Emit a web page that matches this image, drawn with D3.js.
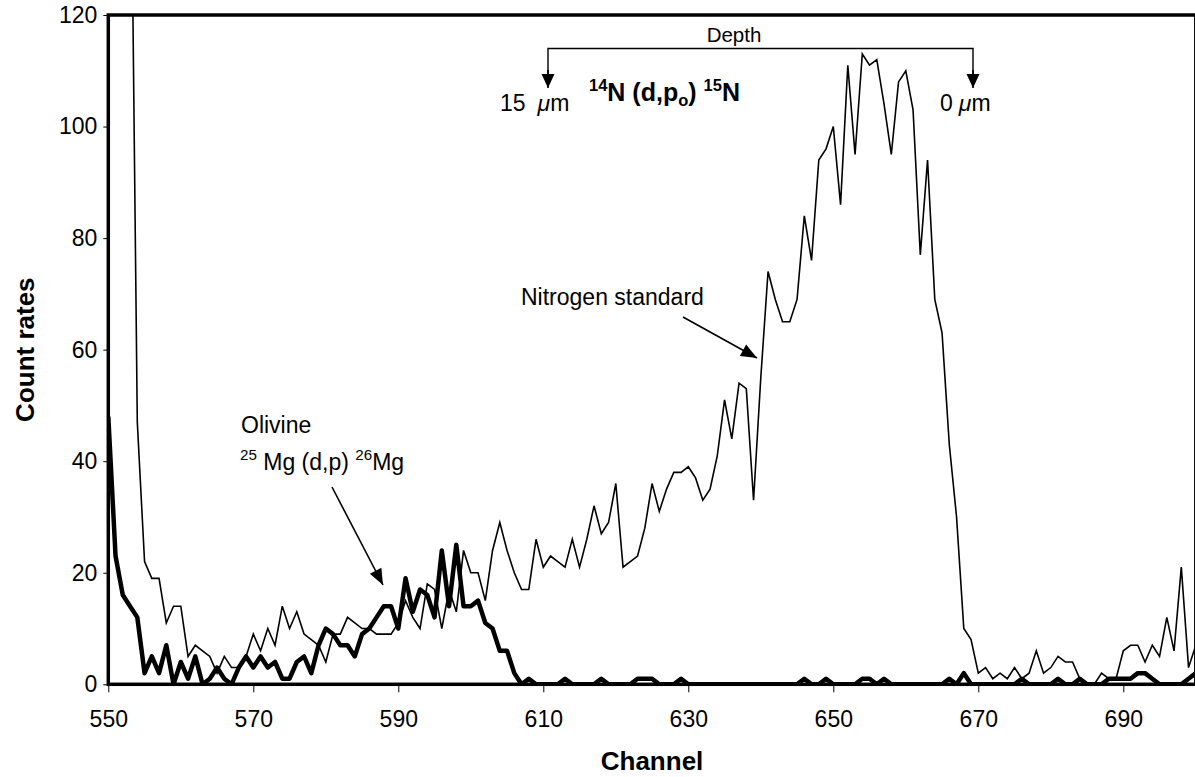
<!DOCTYPE html>
<html>
<head>
<meta charset="utf-8">
<script src="https://cdn.jsdelivr.net/npm/d3@7"></script>
<style>
body { margin: 0; background: #fff; }
svg text { font-family: "Liberation Sans", Arial, sans-serif; fill: #000; }
</style>
</head>
<body>
<div id="chart"></div>
<script>
// Data: counts per channel, 550 .. 700
var firstChannel = 550;
var lastChannel = 700;

// Nitrogen standard, 14N(d,p0)15N (thin line); first channels run off the top
var nitrogen = [
    290, 250, 210, 168, 47, 22, 19, 19, 11, 14,
    14, 5, 7, 6, 5, 2, 5, 3, 3, 5,
    9, 6, 10, 7, 14, 10, 13, 9, 8, 7,
    4, 9, 9, 12, 11, 10, 10, 9, 9, 9,
    11, 15, 12, 10, 18, 17, 10, 17, 13, 24,
    20, 20, 15, 24, 29, 24, 20, 17, 17, 26,
    21, 23, 22, 21, 26, 21, 26, 32, 27, 29,
    36, 21, 22, 23, 28, 36, 31, 35, 38, 38,
    39, 37, 33, 35, 41, 51, 44, 54, 53, 33,
    55, 74, 69, 65, 65, 69, 84, 76, 94, 96,
    100, 86, 111, 95, 113, 111, 112, 104, 95, 108,
    110, 103, 77, 94, 69, 63, 43, 30, 10, 8,
    2, 3, 1, 2, 1, 3, 1, 2, 6, 2,
    3, 5, 4, 4, 1, 0, 0, 2, 1, 1,
    6, 7, 7, 4, 7, 5, 12, 6, 21, 3,
    7
];

// Olivine, 25Mg(d,p)26Mg (thick line)
var olivine = [
    48, 23, 16, 14, 12, 2, 5, 2, 7, 0,
    4, 1, 5, 0, 1, 3, 1, 0, 3, 5,
    3, 5, 3, 4, 1, 1, 4, 5, 2, 7,
    10, 9, 7, 7, 5, 9, 10, 12, 14, 14,
    10, 19, 13, 17, 16, 12, 24, 14, 25, 14,
    14, 15, 11, 10, 6, 6, 2, 0, 1, 0,
    0, 0, 0, 1, 0, 0, 0, 0, 1, 0,
    0, 0, 0, 1, 1, 1, 0, 0, 0, 1,
    0, 0, 0, 0, 0, 0, 0, 0, 0, 0,
    0, 0, 0, 0, 0, 0, 1, 0, 0, 1,
    0, 0, 0, 0, 1, 1, 0, 1, 0, 0,
    0, 0, 0, 0, 0, 0, 1, 0, 2, 0,
    0, 0, 0, 0, 0, 0, 1, 0, 0, 0,
    0, 1, 0, 0, 1, 0, 0, 0, 1, 1,
    1, 1, 2, 2, 1, 0, 0, 0, 0, 1,
    2
];

var xTicks = [550, 570, 590, 610, 630, 650, 670, 690];
var yTicks = [0, 20, 40, 60, 80, 100, 120];
var xTitle = "Channel";
var yTitle = "Count rates";

var channels = d3.range(firstChannel, lastChannel + 1);

var margin = {top: 15, left: 108.3},
    width = 1087.5,
    height = 669.3;

var x = d3.scaleLinear().domain([firstChannel, lastChannel]).range([margin.left, margin.left + width]);
var y = d3.scaleLinear().domain([0, 120]).range([margin.top + height, margin.top]);

var svg = d3.select("#chart").append("svg")
    .attr("width", 1195)
    .attr("height", 777);

svg.append("defs").append("clipPath")
    .attr("id", "plotclip")
  .append("rect")
    .attr("x", margin.left)
    .attr("y", margin.top)
    .attr("width", width)
    .attr("height", height);

// Axes
var xAxis = d3.axisBottom(x).tickValues(xTicks).tickSize(8).tickPadding(18);
var yAxis = d3.axisLeft(y).tickValues(yTicks).tickSize(5).tickPadding(6);

var gx = svg.append("g")
    .attr("transform", "translate(0," + (margin.top + height) + ")")
    .call(xAxis);
var gy = svg.append("g")
    .attr("transform", "translate(" + margin.left + ",0)")
    .call(yAxis);

[gx, gy].forEach(function(g){
    g.select(".domain").remove();
    g.selectAll(".tick line").attr("stroke", "#000").attr("stroke-width", 1);
    g.selectAll(".tick text")
        .style("font-size", "23px")
        .style("font-family", "'Liberation Sans', Arial, sans-serif")
        .attr("fill", "#000");
});

// Lines
var line = function(values){
    return d3.line()
        .x(function(d, i){ return x(channels[i]); })
        .y(function(d){ return y(d); })(values);
};

var plot = svg.append("g").attr("clip-path", "url(#plotclip)");

plot.append("path")
    .attr("d", line(olivine))
    .attr("fill", "none")
    .attr("stroke", "#000")
    .attr("stroke-width", 4.5)
    .attr("stroke-linejoin", "round");

plot.append("path")
    .attr("d", line(nitrogen))
    .attr("fill", "none")
    .attr("stroke", "#000")
    .attr("stroke-width", 1.6)
    .attr("stroke-linejoin", "miter");

// Frame
svg.append("rect")
    .attr("x", margin.left)
    .attr("y", margin.top)
    .attr("width", width)
    .attr("height", height)
    .attr("fill", "none")
    .attr("stroke", "#000")
    .attr("stroke-width", 3.5);

// Axis titles
svg.append("text")
    .attr("x", margin.left + width / 2)
    .attr("y", 770)
    .attr("text-anchor", "middle")
    .style("font-size", "26px")
    .style("font-weight", "bold")
    .text(xTitle);

svg.append("text")
    .attr("transform", "translate(34," + (margin.top + height / 2) + ") rotate(-90)")
    .attr("text-anchor", "middle")
    .style("font-size", "26px")
    .style("font-weight", "bold")
    .text(yTitle);

// Annotations
function richText(px, py, parts, size, weight, anchor){
    var t = svg.append("text")
        .attr("x", px)
        .attr("y", py)
        .attr("text-anchor", anchor || "start")
        .style("font-size", size + "px")
        .style("font-weight", weight || "normal");
    var shift = 0;
    parts.forEach(function(p){
        var target = p.sup ? -0.42 * size : (p.sub ? 0.2 * size : 0);
        var ts = t.append("tspan").attr("dy", target - shift).text(p.t);
        if (p.sup || p.sub) ts.style("font-size", (size * 0.66) + "px");
        if (p.it) ts.style("font-style", "italic");
        if (p.dx) ts.attr("dx", p.dx);
        shift = target;
    });
    return t;
}

function arrow(x1, y1, x2, y2, len, half){
    svg.append("line")
        .attr("x1", x1).attr("y1", y1)
        .attr("x2", x2).attr("y2", y2)
        .attr("stroke", "#000")
        .attr("stroke-width", 1.6);
    var a = Math.atan2(y2 - y1, x2 - x1);
    var bx = x2 - len * Math.cos(a), by = y2 - len * Math.sin(a);
    var pts = [
        [x2, y2],
        [bx + half * Math.sin(a), by - half * Math.cos(a)],
        [bx - half * Math.sin(a), by + half * Math.cos(a)]
    ];
    svg.append("polygon")
        .attr("points", pts.map(function(p){ return p.join(","); }).join(" "))
        .attr("fill", "#000");
}

// depth bracket
svg.append("path")
    .attr("d", "M548,76 L548,48.5 L973,48.5 L973,76")
    .attr("fill", "none")
    .attr("stroke", "#000")
    .attr("stroke-width", 1.4);
arrow(548, 70, 548, 88, 14, 6.5);
arrow(973, 70, 973, 88, 14, 6.5);

richText(734, 42, [{t: "Depth"}], 20.5, "normal", "middle");
richText(500, 111, [{t: "15"}, {t: "\u03bc", it: true, dx: 12}, {t: "m"}], 23);
richText(940, 111, [{t: "0"}, {t: "\u03bc", it: true, dx: 6}, {t: "m"}], 23);
richText(589, 101, [
    {t: "14", sup: true}, {t: "N (d,p"}, {t: "o", sub: true},
    {t: ") "}, {t: "15", sup: true}, {t: "N"}
], 25, "bold");

richText(521, 305, [{t: "Nitrogen standard"}], 23);
arrow(683, 317, 757, 358, 16, 6.5);

richText(241, 433, [{t: "Olivine"}], 23);
richText(240, 470, [
    {t: "25", sup: true}, {t: " Mg (d,p) "}, {t: "26", sup: true}, {t: "Mg"}
], 23);
arrow(332, 487, 383, 585, 16, 6.5);
</script>
</body>
</html>
